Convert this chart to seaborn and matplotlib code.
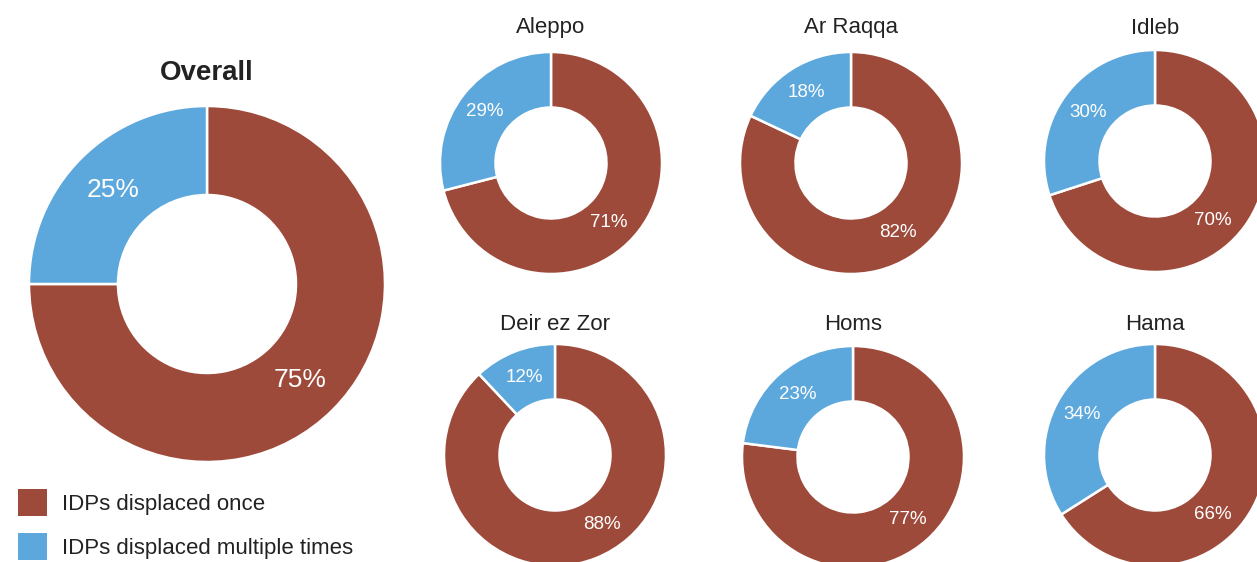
import matplotlib
matplotlib.use("Agg")
import numpy as np
import matplotlib.pyplot as plt
from matplotlib.patches import Patch
import seaborn as sns

sns.set_theme(style="white")
plt.rcParams['font.family'] = ['Liberation Sans', 'DejaVu Sans']

# data
series = ["IDPs displaced once", "IDPs displaced multiple times"]
overall = [75, 25]
regions = ["Aleppo", "Ar Raqqa", "Idleb", "Deir ez Zor", "Homs", "Hama"]
once = [71, 82, 70, 88, 77, 66]
multiple = [29, 18, 30, 12, 23, 34]

colors = sns.color_palette(["#9E4A3A", "#5CA8DC"])

W, H = 1257, 562
fig = plt.figure(figsize=(W / 100, H / 100), dpi=100)


def donut(cx, cy, r, vals, title, fs_pct, fs_title, title_y, bold=False):
    # cx, cy, r in pixels (y from top)
    ax = fig.add_axes([(cx - r) / W, 1 - (cy + r) / H, 2 * r / W, 2 * r / H])
    ax.pie(vals, colors=colors, startangle=90, counterclock=False, radius=1,
           wedgeprops=dict(width=0.5, edgecolor="white", linewidth=1.8))
    # labels: blue at wedge middle, red kept in the lower right part of the ring
    total = float(sum(vals))
    red_mid = 90 - 180 * vals[0] / total
    blue_mid = 90 + 180 * vals[1] / total
    angles = [np.clip(red_mid, -56, -46), blue_mid]
    for v, a in zip(vals, angles):
        t = np.deg2rad(a)
        ax.text(0.75 * np.cos(t), 0.75 * np.sin(t), f"{v}%", color="white",
                fontsize=fs_pct, ha="center", va="center")
    ax.set_xlim(-1, 1)
    ax.set_ylim(-1, 1)
    ax.set_aspect("auto")
    ax.axis("off")
    fig.text(cx / W, 1 - title_y / H, title, ha="center", va="center",
             fontsize=fs_title, color="#222222",
             fontweight="bold" if bold else "normal")


donut(207, 284, 178, overall, "Overall", 19, 20, 73, bold=True)

centers = [(551, 163), (851, 163), (1155, 161), (555, 455), (853, 457), (1155, 455)]
title_ys = [28, 28, 28, 325, 325, 325]
for (cx, cy), name, a, b, ty in zip(centers, regions, once, multiple, title_ys):
    donut(cx, cy, 111, [a, b], name, 13.5, 16, ty)

handles = [Patch(facecolor=c, edgecolor="none") for c in colors]
fig.legend(handles, series, loc="upper left", bbox_to_anchor=(18 / W, 1 - 489 / H),
           frameon=False, fontsize=16, handlelength=1.3, handleheight=1.5,
           labelspacing=0.75, handletextpad=0.7, borderpad=0, borderaxespad=0,
           labelcolor="#222222")

fig.savefig("out.png", dpi=100)
